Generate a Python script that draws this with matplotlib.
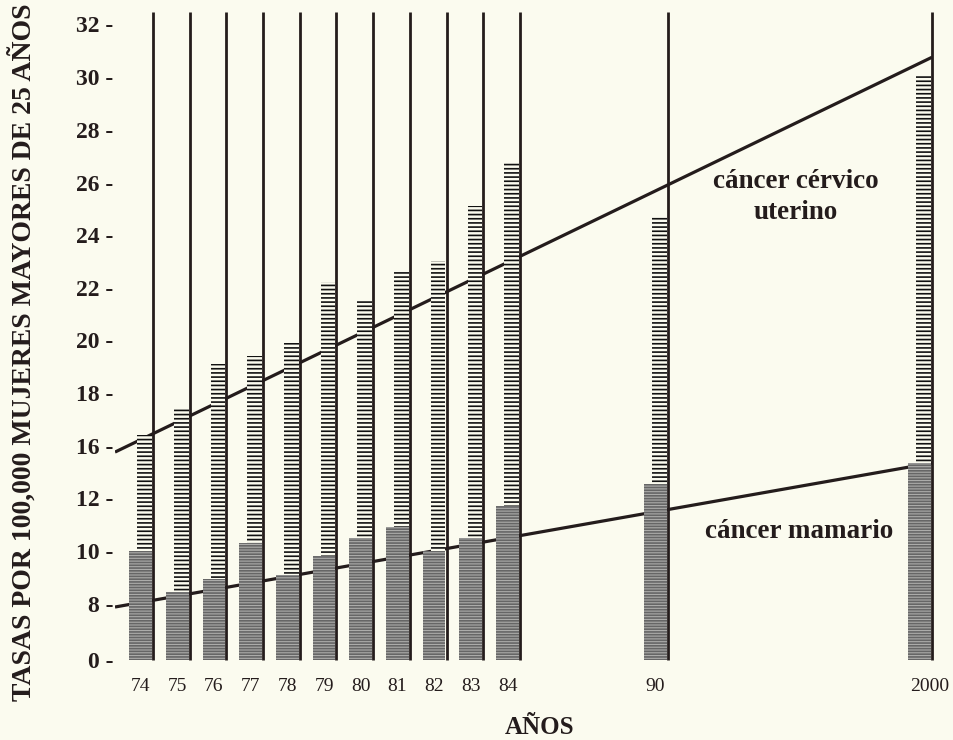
import numpy as np
import matplotlib
matplotlib.use('Agg')
import matplotlib.pyplot as plt
import matplotlib.transforms as mtransforms

# data
years = ['74', '75', '76', '77', '78', '79', '80', '81', '82', '83', '84', '90', '2000']
cervico = [16.4, 17.4, 19.1, 19.4, 19.9, 22.2, 21.5, 22.6, 23.0, 25.1, 26.8, 24.7, 30.1]
mamario = [10.0, 8.45, 8.95, 10.3, 9.1, 9.8, 10.5, 10.9, 10.0, 10.5, 11.7, 13.1, 14.7]
# trend lines: value at left edge, value at year 2000
cervico_trend = [15.5, 30.75]
mamario_trend = [7.57, 14.67]

# y axis labels as printed (the scale is uneven: 8 follows 0, 16 follows 12)
ytick_vals = [0, 8, 10, 12, 16, 18, 20, 22, 24, 26, 28, 30, 32]

# layout: slot of each year's vertical line, irregular spacing like the original
slots = np.array([0, 1, 2, 3, 4, 5, 6, 7, 8, 9, 10, 14.03, 21.23])
ytick_pos = [0, 56, 109, 162, 214.5, 267, 320, 372.5, 425, 477.5, 530, 583, 636]

BG = '#fbfbef'
INK = '#241c1c'

v_ext = np.array([-50] + ytick_vals + [60], dtype=float)
p_ext = np.array([-350] + ytick_pos + [636 + 28 * 26.5], dtype=float)


def fwd(v):
    return np.interp(v, v_ext, p_ext)


def inv(p):
    return np.interp(p, p_ext, v_ext)


plt.rcParams['font.family'] = ['Liberation Serif', 'DejaVu Serif']
plt.rcParams['hatch.linewidth'] = 1.2

fig = plt.figure(figsize=(9.54, 7.40), dpi=100, facecolor=BG)
ax = fig.add_axes([115 / 954, 80 / 740, 830 / 954, 650 / 740])
ax.set_facecolor(BG)
ax.set_yscale('function', functions=(fwd, inv))

# trend lines (drawn underneath the bars)
x_left = -1.035
ax.plot([x_left, slots[-1]], cervico_trend, color=INK, lw=2.3, zorder=1,
        solid_capstyle='butt')
ax.plot([x_left, slots[-1]], mamario_trend, color=INK, lw=2.3, zorder=1,
        solid_capstyle='butt')

# cervical cancer: narrow white bars with horizontal lines
ax.bar(slots - 0.43, cervico, width=0.40, align='edge', facecolor=BG,
       edgecolor='#111111', hatch='----', linewidth=0, zorder=2)
# breast cancer: grey bars in front
ax.bar(slots - 0.65, mamario, width=0.62, align='edge', facecolor='#acacaa',
       edgecolor='#666666', hatch='------', linewidth=0, zorder=3)

ax.vlines(slots, 0, 32.45, color=INK, lw=2.0, zorder=4, clip_on=False)

ax.text(17.52, 25.45, 'cáncer cérvico\nuterino', ha='center', va='center',
        fontsize=19.5, fontweight='bold', color=INK, linespacing=1.3)
ax.text(17.6, 10.75, 'cáncer mamario', ha='center', va='center',
        fontsize=19.5, fontweight='bold', color=INK)

ax.set_xlim(x_left, 21.58)
ax.set_ylim(0, 32.53)

ax.set_yticks(ytick_vals)
ax.set_yticklabels([f'{v} -' for v in ytick_vals], fontsize=17,
                   fontweight='bold', color=INK)
ax.set_xticks(slots - 0.34)
ax.set_xticklabels(years, fontsize=14, color=INK)
ax.tick_params(axis='y', length=0, pad=1)
ax.tick_params(axis='x', length=0, pad=13)
last = ax.get_xticklabels()[-1]
last.set_transform(last.get_transform() +
                   mtransforms.ScaledTranslation(0.10, 0, fig.dpi_scale_trans))

for s in ax.spines.values():
    s.set_visible(False)

fig.text(540 / 954, 1 - 727 / 740, 'AÑOS', ha='center', va='center',
         fontsize=18, fontweight='bold', color=INK)
fig.text(23 / 954, 1 - 352 / 740, 'TASAS POR 100,000 MUJERES MAYORES DE 25 AÑOS',
         ha='center', va='center', rotation=90, fontsize=20,
         fontweight='bold', color=INK)

fig.savefig('out.png', dpi=100, facecolor=BG)
